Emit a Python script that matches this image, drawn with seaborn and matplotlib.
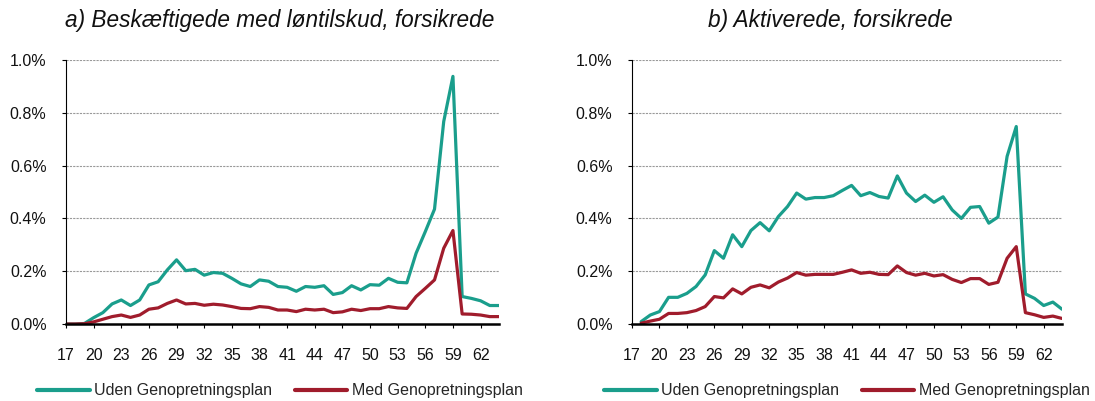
import numpy as np
import pandas as pd
import seaborn as sns
import matplotlib.pyplot as plt
from matplotlib.ticker import FuncFormatter

# Data (percent)
ages_a = list(range(17, 65))
uden_a = [0.0, 0.0, 0.002, 0.024, 0.043, 0.076, 0.091, 0.070, 0.091, 0.148,
          0.160, 0.205, 0.243, 0.202, 0.207, 0.185, 0.195, 0.192, 0.173, 0.152,
          0.142, 0.167, 0.162, 0.142, 0.139, 0.124, 0.142, 0.139, 0.145, 0.112,
          0.119, 0.145, 0.129, 0.149, 0.147, 0.173, 0.158, 0.156, 0.268, 0.350,
          0.435, 0.767, 0.938, 0.104, 0.097, 0.088, 0.070, 0.070]
med_a = [0.0, 0.0, 0.001, 0.008, 0.018, 0.028, 0.034, 0.025, 0.034, 0.056,
         0.061, 0.078, 0.091, 0.076, 0.078, 0.071, 0.075, 0.072, 0.066, 0.059,
         0.058, 0.066, 0.063, 0.053, 0.053, 0.047, 0.056, 0.053, 0.056, 0.043,
         0.046, 0.056, 0.051, 0.058, 0.058, 0.066, 0.061, 0.059, 0.104, 0.135,
         0.167, 0.287, 0.354, 0.038, 0.037, 0.034, 0.028, 0.028]

ages_b = list(range(18, 65))
uden_b = [0.009, 0.034, 0.047, 0.101, 0.101, 0.116, 0.142, 0.186, 0.278, 0.249,
          0.338, 0.293, 0.354, 0.384, 0.353, 0.407, 0.445, 0.496, 0.473, 0.479,
          0.479, 0.486, 0.506, 0.525, 0.486, 0.498, 0.483, 0.477, 0.561, 0.496,
          0.464, 0.488, 0.461, 0.482, 0.432, 0.400, 0.442, 0.445, 0.382, 0.405,
          0.635, 0.748, 0.114, 0.097, 0.070, 0.083, 0.056]
med_b = [0.003, 0.011, 0.018, 0.040, 0.040, 0.043, 0.051, 0.066, 0.104, 0.099,
         0.133, 0.114, 0.139, 0.148, 0.137, 0.159, 0.174, 0.195, 0.185, 0.188,
         0.188, 0.188, 0.196, 0.205, 0.192, 0.196, 0.188, 0.187, 0.220, 0.195,
         0.185, 0.192, 0.182, 0.187, 0.169, 0.157, 0.172, 0.172, 0.150, 0.158,
         0.249, 0.293, 0.043, 0.035, 0.025, 0.030, 0.021]

titles = ["a) Beskæftigede med løntilskud, forsikrede", "b) Aktiverede, forsikrede"]
series_names = ["Uden Genopretningsplan", "Med Genopretningsplan"]
palette = {"Uden Genopretningsplan": "#1a9e8c", "Med Genopretningsplan": "#a01c2c"}

sns.set_theme(style="white")
plt.rcParams['font.family'] = ['Liberation Sans', 'DejaVu Sans']

W, H = 1095, 401
fig = plt.figure(figsize=(W / 100, H / 100), dpi=100)

# panel data, axes left/right edges in px, title centre in px, legend centre in px
panels = [
    (ages_a, uden_a, med_a, (66, 499), 280, 280),
    (ages_b, uden_b, med_b, (632, 1062), 830, 847),
]

for i, (ages, uden, med, (x0, x1), tx, lx) in enumerate(panels):
    ax = fig.add_axes([x0 / W, (H - 324) / H, (x1 - x0) / W, (324 - 60) / H])
    df = pd.DataFrame({
        "age": ages * 2,
        "value": uden + med,
        "serie": [series_names[0]] * len(ages) + [series_names[1]] * len(ages),
    })
    sns.lineplot(data=df, x="age", y="value", hue="serie", palette=palette,
                 hue_order=series_names, linewidth=2.3, ax=ax, legend=False)

    ax.set_xlim(17, 64)
    ax.set_ylim(0, 1.0)
    ax.set_xticks(range(17, 63, 3))
    ax.set_yticks(np.arange(0, 1.01, 0.2))
    ax.yaxis.set_major_formatter(FuncFormatter(lambda v, p: f"{v:.1f}%"))
    ax.set_xlabel("")
    ax.set_ylabel("")

    for y in np.arange(0.2, 1.01, 0.2):
        ax.axhline(y, color="#999999", linewidth=0.8, linestyle=(0, (2, 1)), zorder=0)

    for s in ["top", "right"]:
        ax.spines[s].set_visible(False)
    ax.spines["left"].set_color("black")
    ax.spines["left"].set_linewidth(0.8)
    ax.spines["bottom"].set_color("black")
    ax.spines["bottom"].set_linewidth(1.8)
    ax.spines["bottom"].set_zorder(5)

    ax.tick_params(axis="y", left=True, length=3, width=0.8, color="black",
                   labelsize=11.5, pad=11, labelcolor="#111111")
    ax.tick_params(axis="x", bottom=True, length=3, width=0.8, color="black",
                   labelsize=11.5, pad=14, labelcolor="#111111")

    ax.set_title(titles[i], fontsize=16.3, style="italic", pad=24, color="#111111",
                 x=(tx - x0) / (x1 - x0))

    handles = [plt.Line2D([], [], color=palette[n], linewidth=3) for n in series_names]
    fig.legend(handles, series_names, loc="center", ncol=2, frameon=False,
               bbox_to_anchor=(lx / W, (H - 391) / H),
               fontsize=11.5, handlelength=3.3, handletextpad=0.3, columnspacing=1.4,
               borderpad=0, borderaxespad=0)

fig.savefig("out.png", dpi=100)
